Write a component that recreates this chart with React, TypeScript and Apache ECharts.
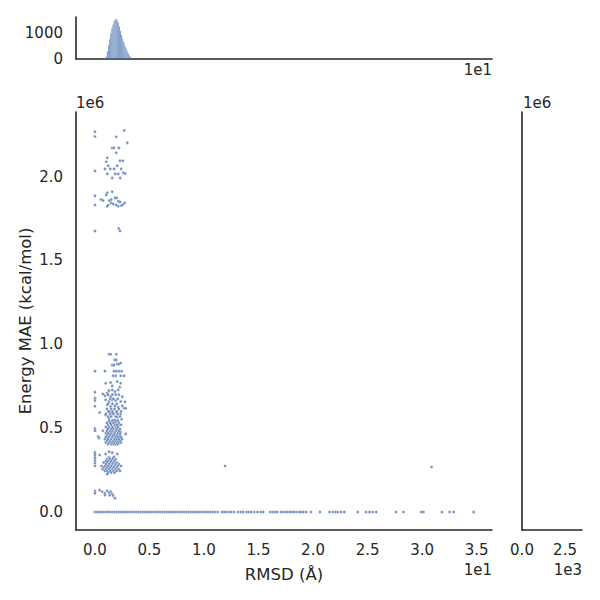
import React, { useEffect, useRef } from 'react';
import * as echarts from 'echarts';

// ---- axis ticks ----
const xTicks = [0, 5, 10, 15, 20, 25, 30, 35];
const yTicks = [0, 500000, 1000000, 1500000, 2000000];
const topHistTicks = [0, 1000];
const rightHistTicks = [0, 2500];

// ---- top marginal histogram of RMSD (bin left edges, counts) ----
const histBinWidth = 0.1;
const histBinStart = [0.8, 0.9, 1.0, 1.1, 1.2, 1.3, 1.4, 1.5, 1.6, 1.7, 1.8, 1.9, 2.0, 2.1, 2.2, 2.3, 2.4, 2.5, 2.6, 2.7, 2.8, 2.9, 3.0, 3.1, 3.2, 3.3, 3.4];
const histCounts = [5, 30, 100, 300, 520, 760, 980, 1170, 1320, 1440, 1520, 1540, 1490, 1390, 1250, 1080, 920, 780, 650, 530, 420, 320, 230, 150, 90, 45, 15];

// ---- scatter points: [RMSD (Å), Energy MAE (×1e6 kcal/mol)] ----
const clusterHigh: number[][] = [
  [0, 2.267], [0, 2.239], [2.69, 2.275], [1.96, 2.237], [2.97, 2.201], [1.59, 2.171], [1.75, 2.171], [2.2, 2.171],
  [1.96, 2.142], [1.13, 2.112], [1.04, 2.088], [2.3, 2.094], [2.57, 2.094], [1.22, 2.064], [2.05, 2.064], [0, 2.034],
  [0.92, 2.046], [1.41, 2.046], [1.75, 2.046], [2.42, 2.046], [1.13, 2.016], [1.86, 2.016], [2.14, 2.016], [2.6, 2.022],
  [2.78, 2.018], [1.59, 1.992], [2.32, 1.992],
  [0, 1.885], [0, 1.831], [1.59, 1.909], [1.13, 1.903], [1.04, 1.891], [0.55, 1.863], [0.76, 1.857], [1.31, 1.857],
  [1.5, 1.863], [1.84, 1.873], [1.99, 1.873], [2.14, 1.853], [2.3, 1.849], [1.47, 1.843], [1.68, 1.837], [1.22, 1.831],
  [1.13, 1.823], [1.93, 1.831], [2.14, 1.823], [2.42, 1.827], [2.57, 1.833], [2.73, 1.843],
  [0, 1.676], [2.2, 1.69], [2.3, 1.676],
];

const clusterMidSparse: number[][] = [
  [1.29, 0.941], [1.44, 0.941], [1.96, 0.941], [1.81, 0.907], [1.96, 0.907],
  [1.59, 0.876], [1.75, 0.876], [2.05, 0.882], [2.2, 0.882], [2.36, 0.888],
  [0, 0.84], [0.92, 0.84], [1.75, 0.84], [1.96, 0.84], [2.2, 0.84], [2.45, 0.84],
  [1.68, 0.812], [1.9, 0.812], [2.36, 0.812], [2.66, 0.812],
  [0.98, 0.768], [1.44, 0.772], [2.05, 0.778], [2.36, 0.768], [1.59, 0.752], [2.27, 0.744],
  [0, 0.715], [1.29, 0.724], [1.59, 0.728], [1.84, 0.718], [2.14, 0.728],
  [0.73, 0.704], [0.92, 0.693], [1.13, 0.709], [1.44, 0.688], [2.2, 0.699], [2.51, 0.688],
  [0, 0.679], [0, 0.665], [0.98, 0.669], [1.29, 0.659], [1.59, 0.669], [1.9, 0.665], [2.36, 0.659], [2.76, 0.657],
  [0, 0.631], [1.13, 0.639], [1.44, 0.629], [1.84, 0.633], [2.14, 0.625], [2.51, 0.633],
  [0.43, 0.593], [2.66, 0.619], [2.82, 0.619],
  [1.22, 0.599], [1.59, 0.589], [1.96, 0.593], [2.36, 0.585], [0.98, 0.579],
  [1.29, 0.559], [1.75, 0.549], [2.05, 0.565], [2.45, 0.553], [1.44, 0.53], [1.9, 0.533], [2.2, 0.519],
  [0, 0.498], [0, 0.485], [0.73, 0.485], [0.37, 0.44], [0.3, 0.45], [2.82, 0.466],
  [1.13, 0.494], [1.59, 0.5], [2.05, 0.49], [2.36, 0.479], [1.29, 0.47], [1.75, 0.46], [2.2, 0.45],
  [1.13, 0.44], [1.9, 0.44], [2.36, 0.434],
];

const clusterMidDense: number[][] = [
  [1.2, 0.405], [1.5, 0.405], [1.7, 0.405], [1.9, 0.405], [2.1, 0.405],
  [1.0, 0.415], [1.3, 0.415], [1.6, 0.415], [1.8, 0.415], [2.0, 0.415], [2.2, 0.415], [2.4, 0.415],
  [1.1, 0.425], [1.4, 0.425], [1.7, 0.425], [1.9, 0.425], [2.1, 0.425], [2.3, 0.425],
  [0.9, 0.435], [1.2, 0.435], [1.5, 0.435], [1.8, 0.435], [2.0, 0.435], [2.2, 0.435], [2.5, 0.435],
  [1.0, 0.447], [1.3, 0.447], [1.6, 0.447], [1.9, 0.447], [2.1, 0.447], [2.4, 0.447],
  [1.1, 0.458], [1.4, 0.458], [1.7, 0.458], [2.0, 0.458], [2.3, 0.458],
  [1.0, 0.47], [1.2, 0.47], [1.5, 0.47], [1.8, 0.47], [2.1, 0.47], [2.3, 0.47],
  [1.1, 0.482], [1.4, 0.482], [1.6, 0.482], [1.9, 0.482], [2.2, 0.482],
  [1.2, 0.495], [1.5, 0.495], [1.7, 0.495], [2.0, 0.495], [2.3, 0.495],
  [1.0, 0.507], [1.3, 0.507], [1.6, 0.507], [1.9, 0.507], [2.1, 0.507],
  [1.2, 0.52], [1.5, 0.52], [1.8, 0.52], [2.0, 0.52], [2.4, 0.52],
  [1.1, 0.532], [1.4, 0.532], [1.7, 0.532], [2.2, 0.532],
  [1.3, 0.545], [1.6, 0.545], [1.9, 0.545], [2.1, 0.545],
  [1.2, 0.57], [1.5, 0.57], [1.9, 0.57], [2.3, 0.57],
  [1.0, 0.585], [1.4, 0.585], [1.7, 0.585], [2.1, 0.585],
  [1.3, 0.6], [1.6, 0.6], [2.0, 0.6], [2.4, 0.6],
  [1.1, 0.615], [1.5, 0.615], [1.8, 0.615], [2.2, 0.615],
  [1.2, 0.645], [1.6, 0.645], [2.0, 0.645],
  [1.4, 0.675], [1.7, 0.675], [2.1, 0.675],
  [1.2, 0.7], [1.6, 0.7], [1.9, 0.7],
];

const clusterLow: number[][] = [
  [0, 0.356], [0, 0.346], [0, 0.334], [0, 0.32], [0, 0.306], [0, 0.291], [0, 0.275],
  [0.43, 0.34], [0.98, 0.346], [1.29, 0.36], [1.59, 0.354], [1.75, 0.33], [2.05, 0.346],
  [1.3, 0.325], [1.7, 0.325],
  [1.1, 0.315], [1.4, 0.315], [1.6, 0.315], [1.9, 0.315],
  [1.0, 0.305], [1.2, 0.305], [1.5, 0.305], [1.8, 0.305],
  [0.8, 0.295], [1.1, 0.295], [1.4, 0.295], [1.7, 0.295], [2.0, 0.295],
  [1.0, 0.285], [1.3, 0.285], [1.6, 0.285], [1.9, 0.285], [2.2, 0.285],
  [0.6, 0.275], [0.9, 0.275], [1.2, 0.275], [1.5, 0.275], [1.8, 0.275], [2.1, 0.275], [2.4, 0.275],
  [0.8, 0.265], [1.1, 0.265], [1.4, 0.265], [1.7, 0.265], [2.0, 0.265],
  [0.7, 0.255], [1.0, 0.255], [1.3, 0.255], [1.6, 0.255], [1.9, 0.255], [2.2, 0.255],
  [0.9, 0.245], [1.1, 0.245], [1.4, 0.245], [1.7, 0.245], [2.0, 0.245], [2.3, 0.245],
  [1.2, 0.235], [1.5, 0.235], [1.8, 0.235], [1.13, 0.225],
  [0, 0.125], [0, 0.112], [0.43, 0.131], [0.67, 0.121], [0.92, 0.112], [1.13, 0.127], [1.29, 0.115],
  [1.44, 0.121], [1.59, 0.107], [1.68, 0.097], [1.84, 0.082], [0.92, 0.101], [1.35, 0.1],
];

const outliers: number[][] = [[11.94, 0.275], [30.87, 0.269]];

// RMSD values of the points lying at Energy MAE = 0
const zeroEnergyRmsd = [
  0, 0.2, 0.4, 0.6, 0.8, 1.0, 1.2, 1.4, 1.6, 1.8, 2.0, 2.2, 2.4, 2.6, 2.8, 3.0, 3.2, 3.4, 3.6, 3.8,
  4.0, 4.2, 4.4, 4.6, 4.8, 5.0, 5.2, 5.4, 5.6, 5.8, 6.0, 6.2, 6.4, 6.6, 6.8, 7.0, 7.2, 7.4, 7.6, 7.8,
  8.0, 8.2, 8.4, 8.6, 8.8, 9.0, 9.2, 9.4, 9.6, 9.8, 10.0, 10.2, 10.4, 10.6, 10.8, 11.0, 11.25,
  11.64, 11.85, 12.05, 12.3, 12.5, 12.77, 13.14, 13.4, 13.6, 13.9, 14.1, 14.33, 14.61, 14.9, 15.2, 15.43,
  16.08, 16.3, 16.5, 16.72, 17.06, 17.21, 17.45, 17.67, 17.89, 18.12, 18.28, 18.49, 18.74, 18.9, 19.11, 19.36,
  19.81, 20.64, 21.5, 21.8, 22.05, 22.26, 22.57, 22.87, 24.1, 24.87, 25.17, 25.47, 25.79,
  27.62, 28.29, 29.92, 30.13, 31.81, 32.52, 32.89, 34.72,
];

const INK = '#262626';
const BLUE = '#4c72b0';
const FONT = 'DejaVu Sans';

export default function App() {
  const ref = useRef<HTMLDivElement>(null);
  useEffect(() => {
    document.body.style.margin = '0';
    if (!ref.current) return;
    const chart = echarts.init(ref.current, undefined, { renderer: 'svg' });

    const scatterData = [...clusterHigh, ...clusterMidSparse, ...clusterMidDense, ...clusterLow, ...outliers]
      .map(([x, y]) => [x, y * 1e6])
      .concat(zeroEnergyRmsd.map((x) => [x, 0]));
    const histData = histBinStart.map((s, i) => [s, s + histBinWidth, histCounts[i]]);

    const axisLine = { show: true, onZero: false, lineStyle: { color: INK, width: 1.6 } };
    const labelBase = { color: INK, fontSize: 15, fontFamily: FONT };
    const xMin = -1.734, xMax = 36.41;
    const yMin = -107000, yMax = 2385000;

    chart.setOption({
      animation: false,
      backgroundColor: '#fff',
      grid: [
        { left: 76, top: 112, width: 416, height: 418 },
        { left: 76, top: 17, width: 416, height: 42 },
        { left: 522, top: 112, width: 60, height: 418 },
      ],
      xAxis: [
        {
          gridIndex: 0, type: 'value', min: xMin, max: xMax, axisLine, axisTick: { show: false }, splitLine: { show: false },
          axisLabel: { ...labelBase, margin: 12, customValues: xTicks, formatter: (v: number) => (v / 10).toFixed(1) },
        },
        {
          gridIndex: 1, type: 'value', min: xMin, max: xMax, axisLine, axisTick: { show: false }, splitLine: { show: false },
          axisLabel: { show: false },
        },
        {
          gridIndex: 2, type: 'value', min: 0, max: 3488, axisLine, axisTick: { show: false }, splitLine: { show: false },
          axisLabel: { ...labelBase, margin: 12, customValues: rightHistTicks, formatter: (v: number) => (v / 1000).toFixed(1) },
        },
      ],
      yAxis: [
        {
          gridIndex: 0, type: 'value', min: yMin, max: yMax, axisLine, axisTick: { show: false }, splitLine: { show: false },
          axisLabel: { ...labelBase, margin: 13, padding: [4, 0, 0, 0], customValues: yTicks, formatter: (v: number) => (v / 1e6).toFixed(1) },
        },
        {
          gridIndex: 1, type: 'value', min: 0, max: 1615, axisLine, axisTick: { show: false }, splitLine: { show: false },
          axisLabel: { ...labelBase, margin: 13, padding: [4, 0, 0, 0], customValues: topHistTicks, formatter: (v: number) => String(v) },
        },
        {
          gridIndex: 2, type: 'value', min: yMin, max: yMax, axisLine, axisTick: { show: false }, splitLine: { show: false },
          axisLabel: { show: false },
        },
      ],
      series: [
        {
          type: 'scatter', xAxisIndex: 0, yAxisIndex: 0, data: scatterData, symbolSize: 3,
          itemStyle: { color: BLUE, borderColor: '#ffffff', borderWidth: 0.5 },
        },
        {
          type: 'custom', xAxisIndex: 1, yAxisIndex: 1, data: histData, encode: { x: [0, 1], y: 2 },
          renderItem: (params: any, api: any) => {
            const p0 = api.coord([api.value(0), api.value(2)]);
            const p1 = api.coord([api.value(1), 0]);
            return {
              type: 'rect',
              shape: { x: p0[0], y: p0[1], width: p1[0] - p0[0], height: p1[1] - p0[1] },
              style: { fill: BLUE, opacity: 0.68 },
            };
          },
        },
      ],
      graphic: [
        { type: 'text', x: 76, y: 103, style: { text: '1e6', font: `15px ${FONT}`, fill: INK, verticalAlign: 'middle' } },
        { type: 'text', x: 523, y: 103, style: { text: '1e6', font: `15px ${FONT}`, fill: INK, verticalAlign: 'middle' } },
        { type: 'text', x: 492, y: 70, style: { text: '1e1', font: `15px ${FONT}`, fill: INK, align: 'right', verticalAlign: 'middle' } },
        { type: 'text', x: 492, y: 570, style: { text: '1e1', font: `15px ${FONT}`, fill: INK, align: 'right', verticalAlign: 'middle' } },
        { type: 'text', x: 582, y: 570, style: { text: '1e3', font: `15px ${FONT}`, fill: INK, align: 'right', verticalAlign: 'middle' } },
        { type: 'text', x: 284, y: 574, style: { text: 'RMSD (Å)', font: `16.5px ${FONT}`, fill: INK, align: 'center', verticalAlign: 'middle' } },
        {
          type: 'text', x: 25, y: 321, rotation: Math.PI / 2,
          style: { text: 'Energy MAE (kcal/mol)', font: `16.5px ${FONT}`, fill: INK, align: 'center', verticalAlign: 'middle' },
        },
      ],
    });
    return () => chart.dispose();
  }, []);
  return <div ref={ref} style={{ width: 600, height: 600 }} />;
}
